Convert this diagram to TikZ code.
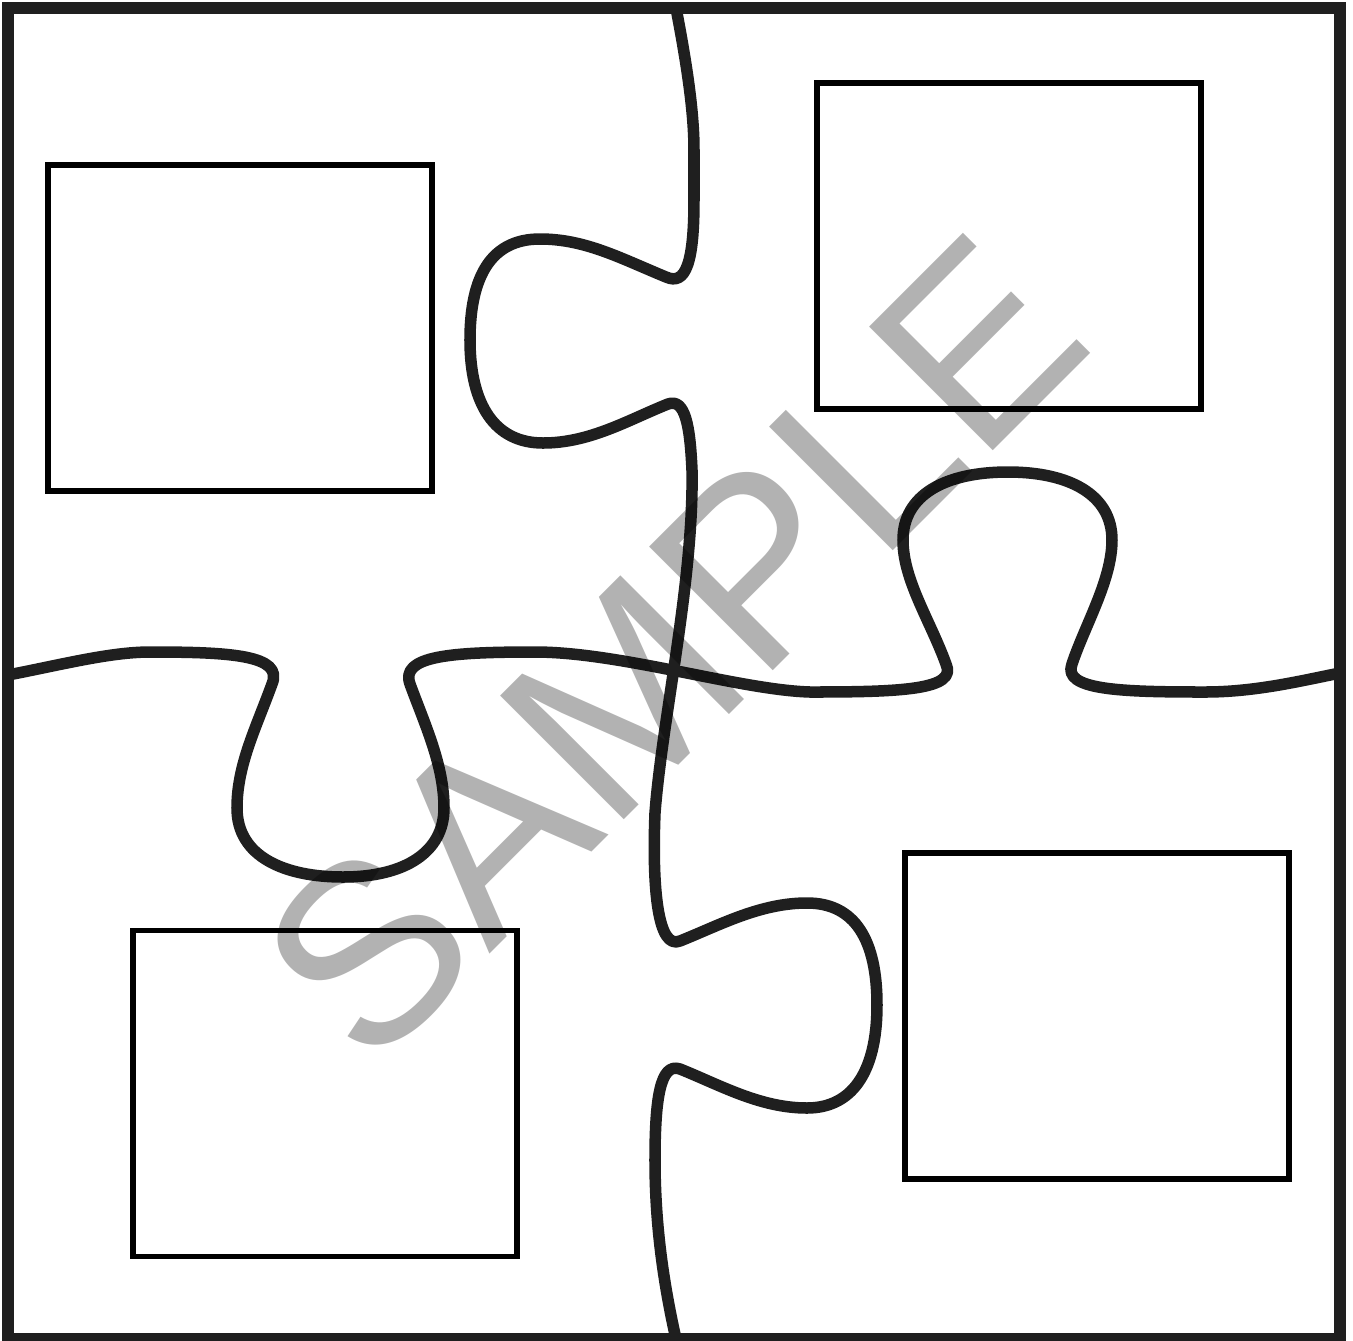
\documentclass[tikz,border=0pt]{standalone}
\usepackage{fontspec}
\newfontfamily\markfont{Liberation Sans}
\usepackage{tikz}
\usetikzlibrary{positioning}
\tikzset{every picture/.style={line width=0.75pt}}
\tikzset{
  frame/.style={draw=black!88, line width=0.125cm},
  seam/.style={draw=black!88, line width=0.115cm, line cap=round, line join=round},
  photobox/.style={draw=black, line width=0.055cm, minimum width=3.84cm, minimum height=3.26cm, inner sep=0pt},
  watermark/.style={text=black, text opacity=0.3, inner sep=0pt, rotate=45, font=\markfont\fontsize{72.3pt}{80pt}\selectfont}
}

\begin{document}
\begin{tikzpicture}[x=0.01cm, y=-0.01cm]
    \useasboundingbox[fill=white] (0,0) rectangle (1353,1341);

    % 外框
    \draw[frame] (8,8) rectangle (1340,1339);

    % 竖直拼缝
    \draw[seam] (676,8) .. controls (686,60) and (694,110) .. (694,150)
        -- (694,200)
        .. controls (694,262) and (686,286) .. (666,277)
        .. controls (620,258) and (585,239) .. (540,239)
        .. controls (492,239) and (470,275) .. (470,340)
        .. controls (470,405) and (495,443) .. (543,443)
        .. controls (590,443) and (628,420) .. (668,404)
        .. controls (685,398) and (690,425) .. (692,470)
        .. controls (694,580) and (662,720) .. (655,813)
        .. controls (652,890) and (658,950) .. (680,941)
        .. controls (720,925) and (760,903) .. (807,903)
        .. controls (855,903) and (877,940) .. (877,1005)
        .. controls (877,1075) and (850,1108) .. (807,1108)
        .. controls (760,1108) and (720,1085) .. (680,1069)
        .. controls (660,1062) and (655,1100) .. (655,1160)
        .. controls (655,1230) and (665,1290) .. (676,1339);

    % 水平拼缝
    \draw[seam] (8,675) .. controls (60,665) and (110,652) .. (150,652)
        .. controls (230,652) and (284,655) .. (272,684)
        .. controls (256,728) and (237,765) .. (237,808)
        .. controls (237,857) and (285,877) .. (343,877)
        .. controls (405,877) and (444,852) .. (444,808)
        .. controls (444,765) and (425,725) .. (410,684)
        .. controls (400,656) and (450,652) .. (535,652)
        .. controls (620,652) and (740,690) .. (810,692)
        .. controls (900,692) and (958,690) .. (946,664)
        .. controls (930,620) and (903,580) .. (903,540)
        .. controls (903,495) and (945,472) .. (1008,472)
        .. controls (1070,472) and (1112,495) .. (1112,540)
        .. controls (1112,580) and (1085,625) .. (1072,664)
        .. controls (1062,690) and (1120,692) .. (1205,692)
        .. controls (1255,692) and (1300,681) .. (1340,673);

    % 四个空白框
    \node[photobox] (boxTL) at (240,328) {};
    \node[photobox] (boxTR) at (1009,246) {};
    \node[photobox] (boxBL) at (325,1093.5) {};
    \node[photobox] (boxBR) at (1097,1016) {};

    % 水印
    \node[watermark] (mark) at (672,648) {SAMPLE};
\end{tikzpicture}
\end{document}
